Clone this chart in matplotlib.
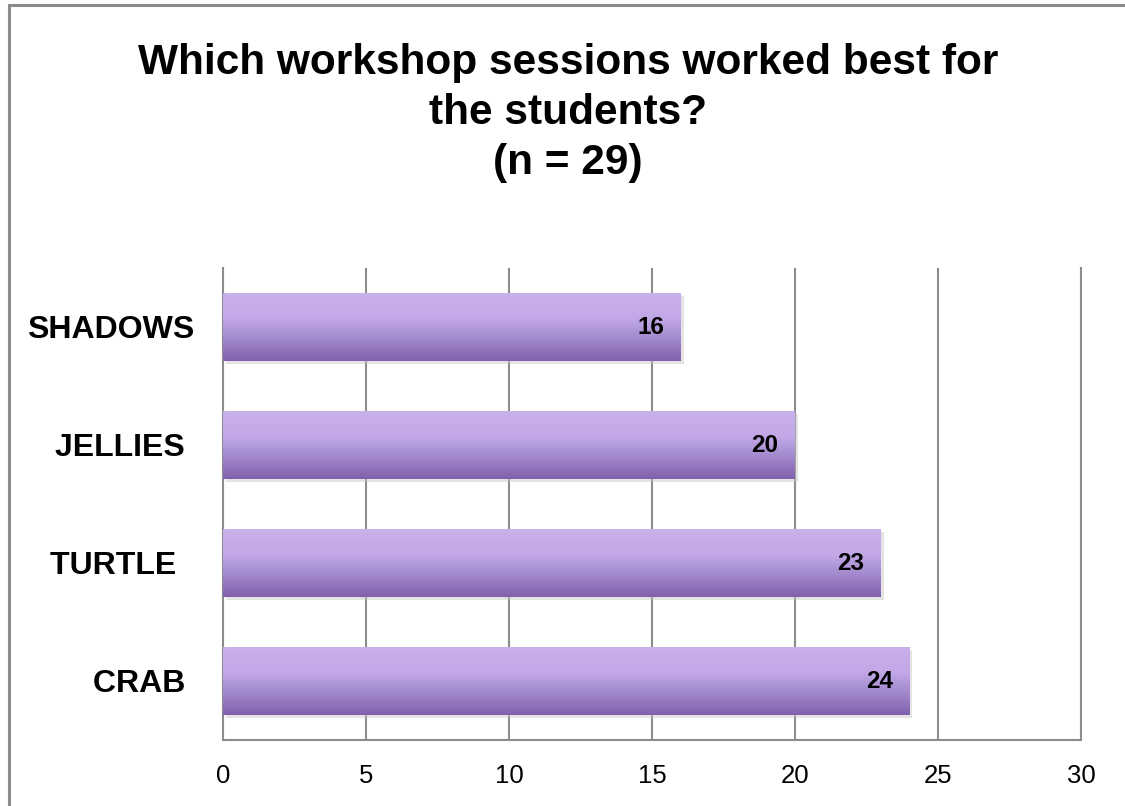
import matplotlib
matplotlib.use("Agg")
import matplotlib.pyplot as plt
import numpy as np
from matplotlib.colors import LinearSegmentedColormap
from matplotlib.patches import Rectangle
import matplotlib.transforms as mtransforms

categories = ["SHADOWS", "JELLIES ", "TURTLE  ", "CRAB "]
values = [16, 20, 23, 24]
xticks = [0, 5, 10, 15, 20, 25, 30]
title = "Which workshop sessions worked best for\nthe students?\n(n = 29)"

plt.rcParams['font.family'] = ['Liberation Sans', 'DejaVu Sans']

W, H = 1125, 806
fig = plt.figure(figsize=(W / 100, H / 100), dpi=100)
ax = fig.add_axes([223 / W, 1 - 740 / H, (1081 - 223) / W, (740 - 268) / H])

# outer chart border
fig.patches.append(Rectangle((8.5 / W, -0.1), 1.2, 1 - 4.5 / H + 0.1, transform=fig.transFigure,
                             fill=False, edgecolor='#8c8c8c', linewidth=2.2, zorder=0))

ypos = np.arange(len(categories))[::-1]
bar_h = 0.58

cmap = LinearSegmentedColormap.from_list(
    'purp', [(0.0, '#8060ac'), (0.35, '#a58ccf'), (0.62, '#c2a8e6'), (1.0, '#c9b1ec')])
grad = np.linspace(0, 1, 256).reshape(-1, 1)

shadow_tr = mtransforms.offset_copy(ax.transData, fig=fig, x=3, y=-3, units='dots')
for y, v in zip(ypos, values):
    sh = Rectangle((0, y - bar_h / 2), v, bar_h, transform=shadow_tr,
                   facecolor='#c4c4c4', alpha=0.45, edgecolor='none', zorder=2)
    ax.add_patch(sh)
    bars = ax.barh([y], [v], height=bar_h, color='none', edgecolor='none', zorder=3)
    rect = bars[0]
    im = ax.imshow(grad, cmap=cmap, aspect='auto', origin='lower',
                   extent=(0, v, y - bar_h / 2, y + bar_h / 2), zorder=3)
    im.set_clip_path(rect)
    ax.text(v - 0.58, y, str(v), ha='right', va='center', fontsize=17.5,
            fontweight='bold', color='black', zorder=5)

ax.set_xlim(0, 30)
ax.set_ylim(-0.5, len(categories) - 0.5)
ax.set_xticks(xticks)
ax.set_xticklabels([str(t) for t in xticks], fontsize=18.5)
ax.set_yticks(ypos)
ax.set_yticklabels(categories, fontsize=23, fontweight='bold')
ax.tick_params(axis='both', length=0)
ax.tick_params(axis='x', pad=17)
ax.tick_params(axis='y', pad=21)
ax.grid(axis='x', color='#8c8c8c', linewidth=1.5, zorder=1)
ax.set_axisbelow(True)
for s in ['top']:
    ax.spines[s].set_visible(False)
for s in ['left', 'bottom', 'right']:
    ax.spines[s].set_color('#8c8c8c')
    ax.spines[s].set_linewidth(1.5)

fig.text(568 / W, 1 - 43 / H, title, ha='center', va='top', fontsize=30.5,
         fontweight='bold', linespacing=1.33)

fig.savefig('out.png', dpi=100)
